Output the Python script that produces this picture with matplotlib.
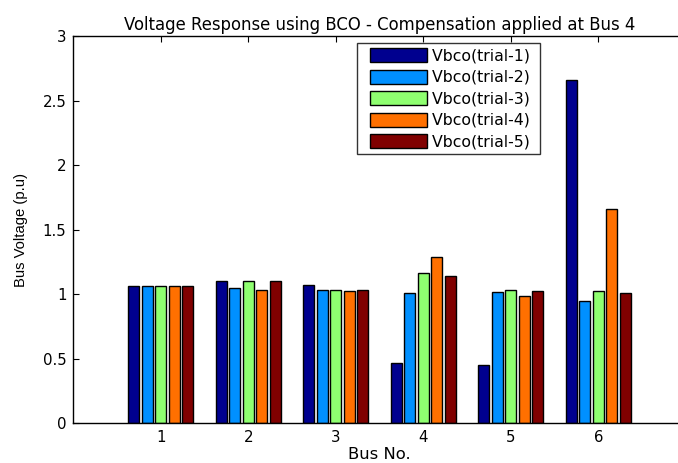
import matplotlib
matplotlib.use("Agg")
import matplotlib.pyplot as plt
from matplotlib.legend_handler import HandlerPatch
from matplotlib.patches import Rectangle
import numpy as np

plt.rcParams['font.family'] = ['DejaVu Sans']

buses = [1, 2, 3, 4, 5, 6]
series_labels = ["Vbco(trial-1)", "Vbco(trial-2)", "Vbco(trial-3)",
                 "Vbco(trial-4)", "Vbco(trial-5)"]
trial_1 = [1.06, 1.10, 1.075, 0.47, 0.455, 2.66]
trial_2 = [1.06, 1.045, 1.035, 1.01, 1.015, 0.945]
trial_3 = [1.06, 1.10, 1.035, 1.165, 1.035, 1.025]
trial_4 = [1.06, 1.035, 1.025, 1.29, 0.985, 1.66]
trial_5 = [1.06, 1.10, 1.035, 1.14, 1.025, 1.01]
series = [trial_1, trial_2, trial_3, trial_4, trial_5]
colors = ["#00008F", "#0090FF", "#8FFF70", "#FF7000", "#800000"]

FS = 10.8
LFS = 11.3
W, H = 678, 463
fig = plt.figure(figsize=(W / 100, H / 100), dpi=100)
# axes spans past the right edge of the canvas
x0, x1, ytop, ybot = 73.3, 685.8, 36.0, 423.3
ax = fig.add_axes([x0 / W, 1 - ybot / H, (x1 - x0) / W, (ybot - ytop) / H])

n = len(series)
group_w = min(0.8, n / (n + 1.5))
pitch = group_w / n
bar_w = 0.8 * pitch
x = np.array(buses, dtype=float)
handles = []
for i, (vals, col, lab) in enumerate(zip(series, colors, series_labels)):
    offs = (i - (n - 1) / 2) * pitch
    b = ax.bar(x + offs, vals, bar_w, color=col, edgecolor="black",
               linewidth=1.0, label=lab)
    handles.append(b.patches[0])

ax.set_xlim(0, 7)
ax.set_ylim(0, 3)
ax.set_xticks(buses)
ax.set_yticks([0, 0.5, 1, 1.5, 2, 2.5, 3])
ax.set_yticklabels(["0", "0.5", "1", "1.5", "2", "2.5", "3"])
ax.set_axisbelow(True)
ax.tick_params(direction="in", length=4, width=0.8, labelsize=FS,
               top=True, right=True, pad=5, colors="black")
for s in ax.spines.values():
    s.set_linewidth(1.0)

ax.set_title("Voltage Response using BCO - Compensation applied at Bus 4",
             fontsize=11.9, pad=4)
ax.set_xlabel("Bus No.", fontsize=11.8, labelpad=1)
ax.set_ylabel("Bus Voltage (p.u)", fontsize=10.7, family="Liberation Sans")
ax.yaxis.set_label_coords(28 / W, 1 - 229.7 / H, transform=fig.transFigure)

leg = fig.legend(handles=handles, labels=[s + " " for s in series_labels],
                 loc="upper left",
                 bbox_to_anchor=(357.3 / W, 1 - 43.3 / H),
                 fontsize=LFS, frameon=True, fancybox=False,
                 handlelength=4.15, handleheight=1.0, labelspacing=0.39,
                 handletextpad=0.3, borderpad=0.3, borderaxespad=0,
                 handler_map={Rectangle: HandlerPatch(xpad=0.5)})
leg.get_frame().set_edgecolor("black")
leg.get_frame().set_linewidth(1.0)

fig.savefig("out.png", dpi=100)
